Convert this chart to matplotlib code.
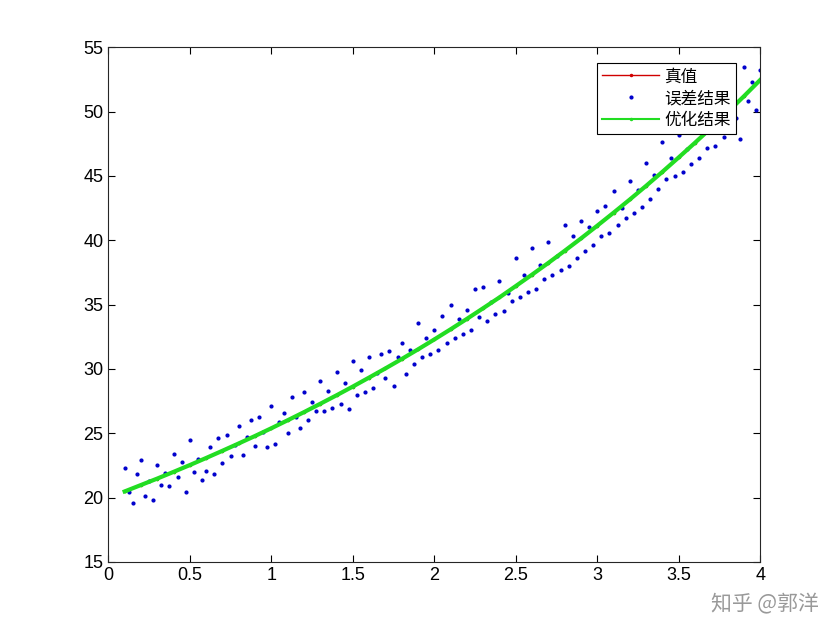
import numpy as np
import matplotlib.pyplot as plt

plt.rcParams['font.family'] = ['Liberation Sans', 'Noto Sans CJK SC']

# true / fitted curve, read at 0.1 steps
curve_x = [round(0.1 * i, 1) for i in range(1, 41)]
true_y = [20.48, 20.98, 21.48, 22.00, 22.53, 23.08, 23.64, 24.21, 24.79, 25.39,
          26.01, 26.64, 27.29, 27.95, 28.63, 29.33, 30.04, 30.77, 31.52, 32.29,
          33.08, 33.89, 34.72, 35.56, 36.44, 37.33, 38.24, 39.18, 40.14, 41.13,
          42.14, 43.17, 44.23, 45.32, 46.44, 47.58, 48.75, 49.96, 51.19, 52.46]
fit_y = true_y

# noisy samples, x from 0.1 to 4.0 step 0.025
noisy_x = [0.1 + 0.025 * i for i in range(157)]
noisy_y = [22.3, 20.4, 19.6, 21.8, 22.9, 20.1, 21.3, 19.8, 22.5, 21.0, 21.9, 20.9,
           23.4, 21.6, 22.8, 20.4, 24.5, 22.0, 23.0, 21.4, 22.1, 23.9, 21.8, 24.6,
           22.7, 24.9, 23.2, 24.1, 25.6, 23.3, 24.7, 26.0, 24.0, 26.3, 25.1, 23.9,
           27.1, 24.2, 25.9, 26.6, 25.0, 27.8, 26.3, 25.4, 28.2, 26.0, 27.4, 26.7,
           29.1, 26.7, 28.3, 27.0, 29.8, 27.3, 28.9, 26.9, 30.6, 28.0, 29.9, 28.2,
           30.9, 28.5, 29.7, 31.2, 29.3, 31.4, 28.7, 30.9, 32.0, 29.6, 31.5, 30.4,
           33.6, 30.9, 32.4, 31.2, 33.0, 31.5, 34.1, 32.0, 35.0, 32.4, 33.9, 32.7,
           34.6, 33.0, 36.2, 34.0, 36.4, 33.7, 35.2, 34.3, 36.8, 34.5, 35.9, 35.3,
           38.6, 35.6, 37.3, 36.0, 39.4, 36.2, 38.1, 37.0, 39.9, 37.3, 38.8, 37.7,
           41.2, 38.0, 40.3, 38.6, 41.5, 39.2, 41.0, 39.6, 42.3, 40.3, 42.7, 40.6,
           43.8, 41.2, 42.5, 41.7, 44.6, 42.1, 43.9, 42.6, 46.0, 43.2, 45.1, 44.0,
           47.6, 44.8, 46.4, 45.0, 48.2, 45.3, 47.1, 45.9, 49.0, 46.4, 48.3, 47.2,
           49.6, 47.3, 48.9, 48.0, 50.6, 48.6, 49.5, 47.9, 53.5, 50.8, 52.3, 50.1,
           53.2]

fig = plt.figure(figsize=(8.4, 6.3), dpi=100)
ax = fig.add_axes([0.129, 0.108, 0.776, 0.817])

ax.plot(curve_x, true_y, '-', color='#d00000', marker='.', markersize=3, lw=1, label='真值')
ax.plot(noisy_x, noisy_y, '.', color='#0000cc', markersize=4, label='误差结果')
ax.plot(curve_x, fit_y, '-', color='#22dd22', marker='.', markersize=3, lw=3, label='优化结果')

ax.set_xlim(0, 4)
ax.set_ylim(15, 55)
ax.set_xticks([0, 0.5, 1, 1.5, 2, 2.5, 3, 3.5, 4])
ax.set_xticklabels(['0', '0.5', '1', '1.5', '2', '2.5', '3', '3.5', '4'])
ax.tick_params(direction='in', labelsize=13, top=True, right=True, length=5)
for s in ax.spines.values():
    s.set_color('#262626')
    s.set_linewidth(0.8)

leg = ax.legend(loc='upper right', bbox_to_anchor=(0.975, 0.985), fancybox=False,
                edgecolor='black', framealpha=1, borderpad=0.3, labelspacing=0.3,
                handlelength=3.4, handletextpad=0.3,
                prop={'family': 'Noto Sans CJK SC', 'size': 12})
leg.get_frame().set_linewidth(0.8)
leg.get_lines()[2].set_linewidth(1.5)

fig.text(0.975, 0.04, '知乎 @郭洋', ha='right', va='center', fontsize=15,
         color='#999999', family='Noto Sans CJK SC')

fig.savefig('out.png', dpi=100)
